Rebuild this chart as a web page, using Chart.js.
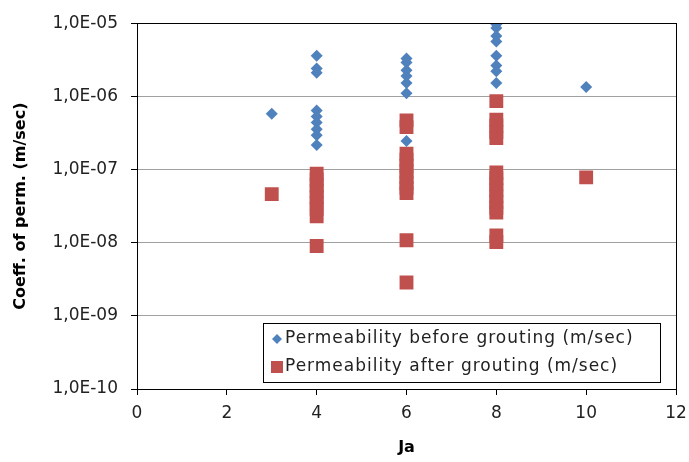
<!DOCTYPE html>
<html>
<head>
<meta charset="utf-8">
<script src="https://cdn.jsdelivr.net/npm/chart.js@4/dist/chart.umd.min.js"></script>
<style>
  html, body { margin: 0; padding: 0; background: #fff; }
  #wrap { width: 689px; height: 462px; }
</style>
</head>
<body>
<div id="wrap"><canvas id="permChart" width="689" height="462"></canvas></div>
<script>
// Ja value and permeability before grouting (m/sec)
const beforeJa = [3, 4, 4, 4, 4, 4, 4, 4, 4, 4, 6, 6, 6, 6, 6, 6, 6, 8, 8, 8, 8, 8, 8, 8, 8, 10];
const beforePerm = [5.8e-7, 3.6e-6, 2.4e-6, 2.1e-6, 6.4e-7, 5.3e-7, 4.4e-7, 3.55e-7, 2.95e-7, 2.17e-7,
  3.3e-6, 2.9e-6, 2.27e-6, 1.9e-6, 1.52e-6, 1.1e-6, 2.45e-7,
  9.7e-6, 8.6e-6, 6.7e-6, 5.6e-6, 3.6e-6, 2.65e-6, 2.2e-6, 1.52e-6, 1.34e-6];

// Ja value and permeability after grouting (m/sec)
const afterJa = [3, 4, 4, 4, 4, 4, 4, 4, 4, 4,
  6, 6, 6, 6, 6, 6, 6, 6, 6, 6, 6, 6,
  8, 8, 8, 8, 8, 8, 8, 8, 8, 8, 8, 8, 8, 8, 8, 10];
const afterPerm = [4.6e-8, 8.8e-8, 7.3e-8, 6.1e-8, 5.07e-8, 4.2e-8, 3.5e-8, 2.9e-8, 2.3e-8, 9.0e-9,
  4.7e-7, 3.8e-7, 1.64e-7, 1.36e-7, 1.13e-7, 9.4e-8, 7.8e-8, 6.5e-8, 5.6e-8, 4.76e-8, 1.08e-8, 2.86e-9,
  8.6e-7, 4.8e-7, 4.0e-7, 3.24e-7, 2.7e-7, 9.1e-8, 7.6e-8, 6.3e-8, 5.2e-8, 4.3e-8, 3.6e-8, 3.0e-8, 2.57e-8, 1.26e-8, 1.02e-8,
  7.8e-8];

const jaTicks = [0, 2, 4, 6, 8, 10, 12];
const decadeTicks = [1e-10, 1e-9, 1e-8, 1e-7, 1e-6, 1e-5];

const seriesNames = ['Permeability before grouting (m/sec)', 'Permeability after grouting (m/sec)'];

const BLUE = '#4F81BD';
const RED = '#C0504D';
const FONT = 'DejaVu Sans';

function toPoints(xs, ys) {
  return xs.map((x, i) => ({ x: x, y: ys[i] }));
}

// 1,0E-05 style labels
function sciLabel(v) {
  const e = Math.round(Math.log10(v));
  const s = String(Math.abs(e)).padStart(2, '0');
  return '1,0E' + (e < 0 ? '-' : '+') + s;
}

// border round the plot area
const plotFrame = {
  id: 'plotFrame',
  afterDatasetsDraw(chart) {
    const { ctx, chartArea: a } = chart;
    ctx.save();
    ctx.strokeStyle = '#000';
    ctx.lineWidth = 1;
    ctx.strokeRect(Math.round(a.left) + 0.5, Math.round(a.top) + 0.5,
      Math.round(a.right - a.left), Math.round(a.bottom - a.top));
    ctx.restore();
  }
};

// boxed legend inside the lower right of the plot
const boxLegend = {
  id: 'boxLegend',
  afterDraw(chart) {
    const ctx = chart.ctx;
    const bx = 263, by = 323, bw = 397, bh = 59;
    ctx.save();
    ctx.fillStyle = '#fff';
    ctx.fillRect(bx, by, bw, bh);
    ctx.strokeStyle = '#000';
    ctx.lineWidth = 1;
    ctx.strokeRect(bx + 0.5, by + 0.5, bw, bh);

    const rows = [339, 367];
    // diamond
    ctx.fillStyle = BLUE;
    ctx.beginPath();
    ctx.moveTo(277, rows[0] - 5);
    ctx.lineTo(282, rows[0]);
    ctx.lineTo(277, rows[0] + 5);
    ctx.lineTo(272, rows[0]);
    ctx.closePath();
    ctx.fill();
    // square
    ctx.fillStyle = RED;
    ctx.fillRect(271, rows[1] - 6, 12, 12);

    ctx.fillStyle = '#222';
    ctx.font = '17px "' + FONT + '"';
    ctx.letterSpacing = '1px';
    ctx.textBaseline = 'middle';
    ctx.textAlign = 'left';
    seriesNames.forEach((t, i) => ctx.fillText(t, 285, rows[i]));
    ctx.restore();
  }
};

new Chart(document.getElementById('permChart'), {
  type: 'scatter',
  data: {
    datasets: [{
      label: seriesNames[0],
      data: toPoints(beforeJa, beforePerm),
      pointStyle: 'rectRot',
      pointRadius: 6,
      pointHoverRadius: 6,
      backgroundColor: BLUE,
      borderColor: BLUE,
      borderWidth: 0
    }, {
      label: seriesNames[1],
      data: toPoints(afterJa, afterPerm),
      pointStyle: 'rect',
      pointRadius: 9.8,
      pointHoverRadius: 9.8,
      backgroundColor: RED,
      borderColor: RED,
      borderWidth: 0
    }]
  },
  options: {
    responsive: false,
    animation: false,
    layout: { padding: { left: 0, right: 13, top: 17, bottom: 0 } },
    plugins: {
      legend: { display: false },
      tooltip: { enabled: false }
    },
    scales: {
      x: {
        type: 'linear',
        min: 0,
        max: 12,
        afterBuildTicks: (s) => { s.ticks = jaTicks.map(v => ({ value: v })); },
        afterFit: (s) => {
          s.height = 73;
          s.paddingLeft = 0;
          s.paddingRight = 0;
        },
        grid: { drawOnChartArea: false, tickLength: 6, color: '#000', tickColor: '#000' },
        border: { color: '#000' },
        ticks: { color: '#222', padding: 8, font: { family: FONT, size: 17 } },
        title: {
          display: true,
          text: 'Ja',
          color: '#000',
          padding: { top: 0, bottom: 5 },
          font: { family: FONT, size: 16, weight: 'bold' }
        }
      },
      y: {
        type: 'logarithmic',
        min: 1e-10,
        max: 1e-5,
        afterBuildTicks: (s) => { s.ticks = decadeTicks.map(v => ({ value: v })); },
        afterFit: (s) => { s.width = 137; },
        grid: { color: '#a0a0a0', tickLength: 6, tickColor: '#000' },
        border: { color: '#000' },
        ticks: {
          color: '#222',
          padding: 13,
          font: { family: FONT, size: 17 },
          callback: (v) => sciLabel(v)
        },
        title: {
          display: true,
          text: 'Coeff. of perm. (m/sec)',
          color: '#000',
          padding: { top: 11, bottom: 0 },
          font: { family: FONT, size: 16, weight: 'bold' }
        }
      }
    }
  },
  plugins: [plotFrame, boxLegend]
});
</script>
</body>
</html>
